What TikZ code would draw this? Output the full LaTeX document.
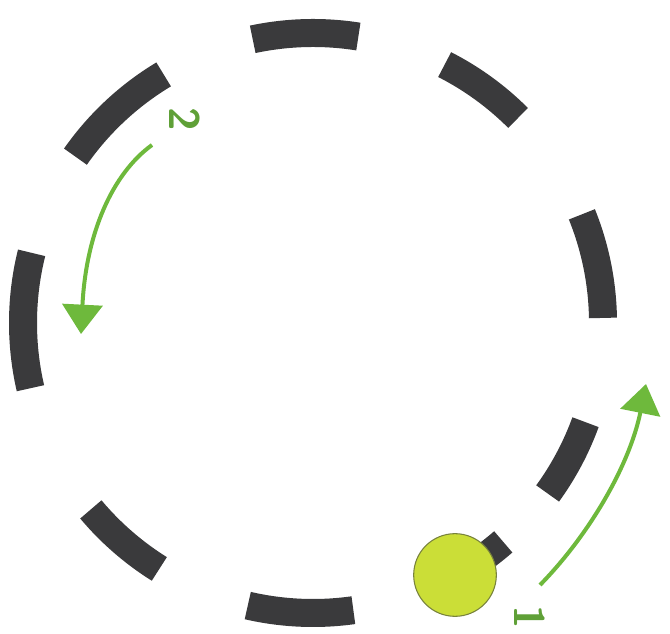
\documentclass[tikz,border=0pt]{standalone}
\usetikzlibrary{arrows.meta,calc}
\definecolor{seg}{RGB}{58,58,60}
\definecolor{ball}{RGB}{203,222,55}
\definecolor{ballrim}{RGB}{120,130,60}
\definecolor{arr}{RGB}{110,185,60}
\definecolor{lbl}{RGB}{95,160,55}
\tikzset{
  segment/.style={draw=seg, line width=21pt, line cap=butt},
  greenarrow/.style={draw=arr, line width=3pt, -{Triangle[width=30pt,length=22pt]}, arr},
  numlabel/.style={text=lbl, font=\sffamily\bfseries\fontsize{32}{32}\selectfont, rotate=-90, inner sep=0pt}
}
\begin{document}
\begin{tikzpicture}[x=0.75pt,y=0.75pt]
\useasboundingbox (0,0) rectangle (670,634);
\coordinate (c) at (313,311);
% dashed ring segments
\foreach \a/\b in {81/102, 45/63, 1/22, -36/-20, -62/-49, -103/-82, -140/-122, 166/193, 121/145}{
  \draw[segment] ($(c)+(\a:290)$) arc[start angle=\a, end angle=\b, radius=290];
}
% ball
\node[circle, fill=ball, draw=ballrim, line width=0.8pt, minimum size=62pt, inner sep=0pt] (ball) at (455,59) {};
% arrows
\coordinate (s2) at (152,489);
\coordinate (e2) at (81,300);
\draw[greenarrow] (s2) .. controls (112,460) and (86,400) .. (e2);
\coordinate (s1) at (540,49);
\coordinate (e1) at (646,250);
\draw[greenarrow] (s1) .. controls (590,100) and (630,170) .. (e1);
% labels
\node[numlabel] (l2) at (185,515) {2};
\node[numlabel] (l1) at (530,17) {1};
\end{tikzpicture}
\end{document}
